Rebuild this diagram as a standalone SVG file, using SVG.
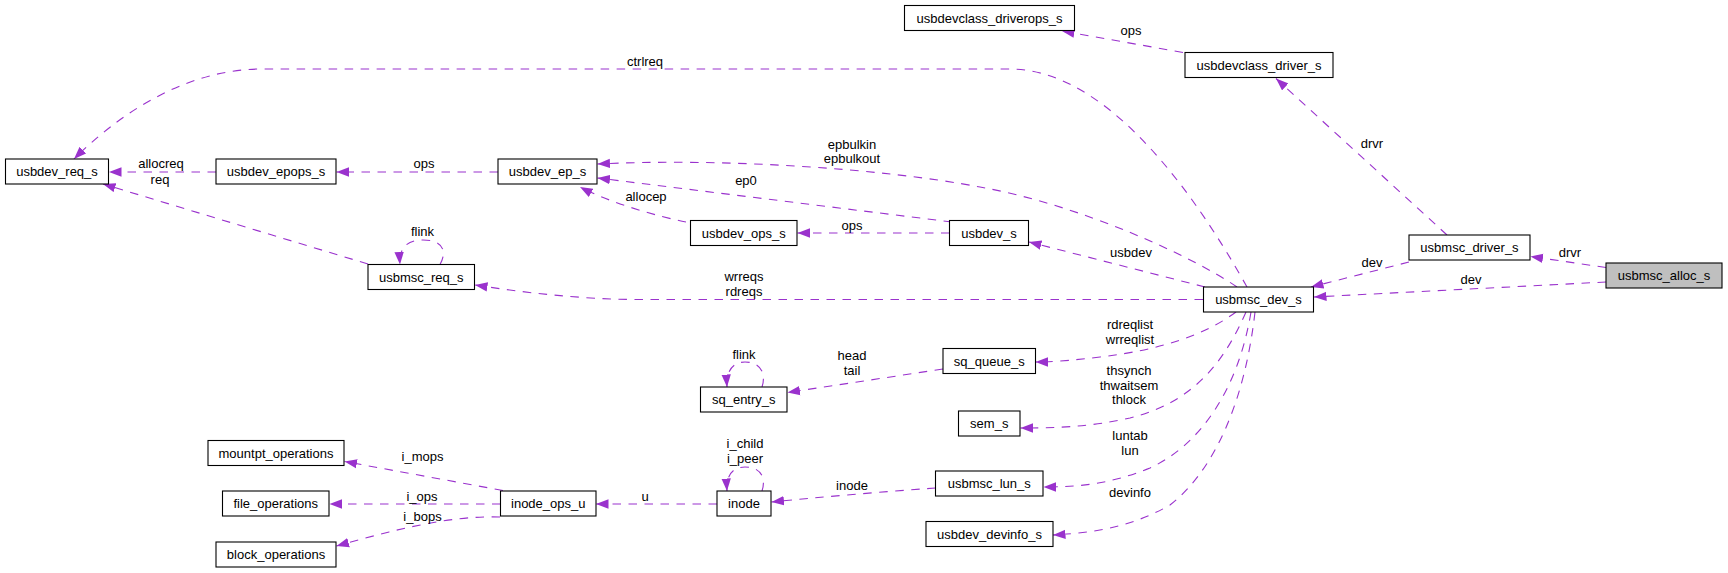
<svg xmlns="http://www.w3.org/2000/svg" width="1728" height="573" viewBox="0 0 1728 573">
<style>
text{font-family:"Liberation Sans",Arial,Helvetica,sans-serif;font-size:13px;fill:#000}
.n text{text-anchor:middle}
.n rect{fill:#fff;stroke:#000;stroke-width:1.1}
.n.main rect{fill:#bfbfbf}
.e path{fill:none;stroke:#9a32cd;stroke-width:1.1;stroke-dasharray:8.5,7.5;marker-end:url(#ah)}
.l text{text-anchor:middle}
</style>
<defs>
<marker id="ah" markerUnits="userSpaceOnUse" markerWidth="13" markerHeight="10" viewBox="0 0 13 10" refX="12.5" refY="5" orient="auto">
<path d="M0,0.3 L12.5,5 L0,9.7 Z" fill="#9a32cd"/>
</marker>
</defs>
<rect width="1728" height="573" fill="#fff"/>
<g id="edges" class="e">
<path d="M1606,267.5 L1530.5,256.5"/>
<path d="M1606,282 L1314,297"/>
<path d="M1409,262 L1311,287"/>
<path d="M1447,235 L1276,78.5"/>
<path d="M1183,52.5 L1062,31"/>
<path d="M1247,287 C1215,230 1120,69 1010,69 L262,69 C185,69 118,115 74,159"/>
<path d="M1237,287 C1190,255 1080,205 980,187 C880,168 720,158 597.5,164"/>
<path d="M952,222 L597.5,178"/>
<path d="M686,222 C660,217 610,203 580,187"/>
<path d="M498,172 L336.5,172"/>
<path d="M216,172 L109,172"/>
<path d="M368,264 L103,184"/>
<path d="M440,264.5 C446,254 446,240 423,240 C405,240 399,250 400,264.5"/>
<path d="M1203,299.5 L640,299.5 C580,299.5 520,292 475,285"/>
<path d="M949.5,233 L797.5,233"/>
<path d="M1205,287 L1029,242"/>
<path d="M1236,312 C1205,335 1160,350 1100,357 C1075,360 1055,362 1035.5,362"/>
<path d="M943,369 L787.5,392.5"/>
<path d="M762,387 C766,375 762,362 745,362 C732,362 726,372 727,387"/>
<path d="M1246,312 C1225,360 1195,402 1130,418 C1090,427 1055,428 1020.5,428"/>
<path d="M1251,312 C1238,390 1200,445 1150,468 C1110,484 1080,487 1043.5,487"/>
<path d="M1255,312 C1245,400 1215,470 1170,505 C1130,528 1090,533 1053,535"/>
<path d="M935.5,488 C880,492 820,497 771.5,502"/>
<path d="M762,491 C766,479 762,467 745,467 C732,467 726,476 727,491"/>
<path d="M717,504 L596,504"/>
<path d="M503,490.5 L344.5,461.5"/>
<path d="M500.5,504 L329.5,504"/>
<path d="M500,517 C450,515 390,531 336.5,546"/>
</g>
<g id="edge-labels" class="l">
<text x="1570" y="256.5">drvr</text>
<text x="1471" y="283.5">dev</text>
<text x="1372" y="266.5">dev</text>
<text x="1372" y="147.5">drvr</text>
<text x="1131" y="35">ops</text>
<text x="645" y="65.5">ctrlreq</text>
<text x="852" y="148.5">epbulkin</text>
<text x="852" y="163">epbulkout</text>
<text x="746" y="184.5">ep0</text>
<text x="646" y="201">allocep</text>
<text x="424" y="168">ops</text>
<text x="161" y="168">allocreq</text>
<text x="160" y="183.5">req</text>
<text x="422.5" y="236">flink</text>
<text x="852" y="229.5">ops</text>
<text x="1131" y="256.5">usbdev</text>
<text x="744" y="281">wrreqs</text>
<text x="744" y="296">rdreqs</text>
<text x="1130" y="328.5">rdreqlist</text>
<text x="1130" y="343.5">wrreqlist</text>
<text x="852" y="360">head</text>
<text x="852" y="375">tail</text>
<text x="744" y="358.5">flink</text>
<text x="1129" y="375">thsynch</text>
<text x="1129" y="389.5">thwaitsem</text>
<text x="1129" y="404">thlock</text>
<text x="1130" y="440">luntab</text>
<text x="1130" y="455">lun</text>
<text x="1130" y="497">devinfo</text>
<text x="745" y="447.5">i_child</text>
<text x="745" y="463">i_peer</text>
<text x="852" y="489.5">inode</text>
<text x="645" y="500.5">u</text>
<text x="422.5" y="461">i_mops</text>
<text x="422" y="500.5">i_ops</text>
<text x="422.5" y="520.5">i_bops</text>
</g>
<g id="usbdev_req_s" class="n"><rect x="5.5" y="159" width="103" height="25"/><text x="57" y="176">usbdev_req_s</text></g>
<g id="usbdev_epops_s" class="n"><rect x="216" y="159" width="120" height="25"/><text x="276" y="176">usbdev_epops_s</text></g>
<g id="usbdev_ep_s" class="n"><rect x="498" y="159" width="99" height="25"/><text x="547.5" y="176">usbdev_ep_s</text></g>
<g id="usbdevclass_driverops_s" class="n"><rect x="904.5" y="5.5" width="170" height="25"/><text x="989.5" y="22.5">usbdevclass_driverops_s</text></g>
<g id="usbdevclass_driver_s" class="n"><rect x="1185" y="52.5" width="148" height="25"/><text x="1259" y="69.5">usbdevclass_driver_s</text></g>
<g id="usbmsc_driver_s" class="n"><rect x="1409" y="235" width="121" height="25"/><text x="1469.5" y="252">usbmsc_driver_s</text></g>
<g id="usbmsc_alloc_s" class="n main"><rect x="1606" y="263" width="116" height="25"/><text x="1664" y="280">usbmsc_alloc_s</text></g>
<g id="usbmsc_dev_s" class="n"><rect x="1203.5" y="287" width="110" height="25"/><text x="1258.5" y="304">usbmsc_dev_s</text></g>
<g id="usbmsc_req_s" class="n"><rect x="368" y="264.5" width="106.5" height="25"/><text x="421.25" y="281.5">usbmsc_req_s</text></g>
<g id="usbdev_ops_s" class="n"><rect x="690.5" y="220.5" width="106.5" height="25"/><text x="743.75" y="237.5">usbdev_ops_s</text></g>
<g id="usbdev_s" class="n"><rect x="949.5" y="220.5" width="79" height="25"/><text x="989" y="237.5">usbdev_s</text></g>
<g id="sq_queue_s" class="n"><rect x="943" y="348.5" width="92.5" height="25"/><text x="989.25" y="365.5">sq_queue_s</text></g>
<g id="sq_entry_s" class="n"><rect x="700.5" y="387" width="86.5" height="25"/><text x="743.75" y="404">sq_entry_s</text></g>
<g id="sem_s" class="n"><rect x="958.5" y="411" width="61.5" height="25"/><text x="989.25" y="428">sem_s</text></g>
<g id="usbmsc_lun_s" class="n"><rect x="935.5" y="471" width="107.5" height="25"/><text x="989.25" y="488">usbmsc_lun_s</text></g>
<g id="inode" class="n"><rect x="717" y="491" width="54" height="25"/><text x="744" y="508">inode</text></g>
<g id="usbdev_devinfo_s" class="n"><rect x="926" y="521.5" width="127" height="25"/><text x="989.5" y="538.5">usbdev_devinfo_s</text></g>
<g id="mountpt_operations" class="n"><rect x="208" y="440.5" width="136" height="25"/><text x="276" y="457.5">mountpt_operations</text></g>
<g id="file_operations" class="n"><rect x="222.5" y="491" width="106.5" height="25"/><text x="275.75" y="508">file_operations</text></g>
<g id="block_operations" class="n"><rect x="216" y="542" width="120" height="25"/><text x="276" y="559">block_operations</text></g>
<g id="inode_ops_u" class="n"><rect x="500.5" y="491" width="95.5" height="25"/><text x="548.25" y="508">inode_ops_u</text></g>
</svg>
